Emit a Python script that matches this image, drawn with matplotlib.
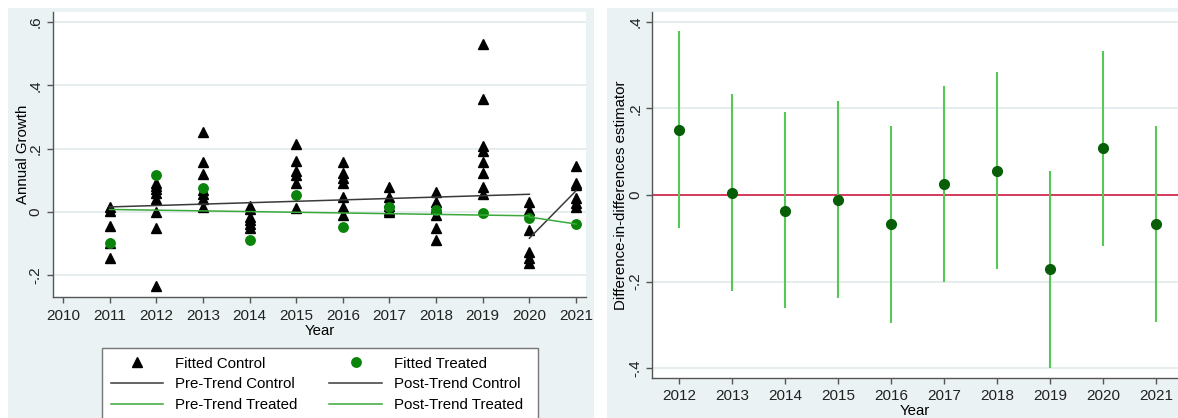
import matplotlib
matplotlib.use('Agg')
import matplotlib.pyplot as plt
from matplotlib.patches import Rectangle
from matplotlib.lines import Line2D

plt.rcParams['font.family'] = ['Liberation Sans', 'DejaVu Sans']

# ---------------- data: left panel ----------------
ctrl_2011 = [0.015, 0.003, -0.044, -0.099, -0.146]
ctrl_2012 = [0.091, 0.083, 0.072, 0.060, 0.040, 0.001, -0.052, -0.235]
ctrl_2013 = [0.252, 0.157, 0.120, 0.070, 0.057, 0.040, 0.017]
ctrl_2014 = [0.019, 0.010, -0.015, -0.025, -0.038, -0.052]
ctrl_2015 = [0.215, 0.162, 0.131, 0.117, 0.091, 0.012]
ctrl_2016 = [0.159, 0.122, 0.106, 0.091, 0.046, 0.015, -0.009]
ctrl_2017 = [0.080, 0.048, 0.033, 0.020, 0.005, 0.000]
ctrl_2018 = [0.064, 0.033, 0.012, -0.009, -0.050, -0.089]
ctrl_2019 = [0.532, 0.356, 0.209, 0.194, 0.159, 0.122, 0.078, 0.057]
ctrl_2020 = [0.033, 0.006, -0.057, -0.125, -0.146, -0.162]
ctrl_2021 = [0.145, 0.091, 0.085, 0.043, 0.027, 0.015]
ctrl_years = [2011, 2012, 2013, 2014, 2015, 2016, 2017, 2018, 2019, 2020, 2021]
ctrl_values = [ctrl_2011, ctrl_2012, ctrl_2013, ctrl_2014, ctrl_2015, ctrl_2016,
               ctrl_2017, ctrl_2018, ctrl_2019, ctrl_2020, ctrl_2021]

treat_years = [2011, 2012, 2013, 2014, 2015, 2016, 2017, 2018, 2019, 2020, 2021]
treat_values = [-0.099, 0.117, 0.075, -0.088, 0.053, -0.046, 0.017, 0.006, -0.002, -0.018, -0.038]

pre_ctrl_x, pre_ctrl_y = [2011, 2020], [0.016, 0.056]
post_ctrl_x, post_ctrl_y = [2020, 2021], [-0.083, 0.067]
pre_treat_x, pre_treat_y = [2011, 2020], [0.008, -0.012]
post_treat_x, post_treat_y = [2020, 2021], [-0.016, -0.038]

x1_ticks = [2010, 2011, 2012, 2013, 2014, 2015, 2016, 2017, 2018, 2019, 2020, 2021]
y1_ticks = [-0.2, 0.0, 0.2, 0.4, 0.6]
y1_labels = ['-.2', '0', '.2', '.4', '.6']

legend_labels = ['Fitted Control', 'Pre-Trend Control', 'Pre-Trend Treated',
                 'Fitted Treated', 'Post-Trend Control', 'Post-Trend Treated']

# ---------------- data: right panel ----------------
did_years = [2012, 2013, 2014, 2015, 2016, 2017, 2018, 2019, 2020, 2021]
did_est = [0.150, 0.005, -0.036, -0.012, -0.068, 0.025, 0.056, -0.172, 0.108, -0.067]
did_ci_low = [-0.077, -0.221, -0.262, -0.237, -0.295, -0.202, -0.170, -0.399, -0.119, -0.294]
did_ci_high = [0.378, 0.233, 0.193, 0.217, 0.160, 0.252, 0.284, 0.055, 0.334, 0.160]

y2_ticks = [-0.4, -0.2, 0.0, 0.2, 0.4]
y2_labels = ['-.4', '-.2', '0', '.2', '.4']

# ---------------- styling ----------------
W, H = 1178, 418
BG = '#eaf2f3'
GRID = '#e3ecee'
SPINE = '#555555'
GREEN_MK = '#0b840b'
GREEN_LN = '#3aa83a'
GRAY_LN = '#3a3a3a'
CI_GREEN = '#55c855'
DOT_GREEN = '#075e07'
RED = '#d63a5c'


def fx(px):
    return px / W


def fy(py):
    return 1 - py / H


fig = plt.figure(figsize=(W / 100, H / 100), dpi=100)
fig.patch.set_facecolor('white')

fig.add_artist(Rectangle((fx(8), 0), fx(594) - fx(8), fy(8), transform=fig.transFigure,
                         facecolor=BG, edgecolor='none', zorder=-2))
fig.add_artist(Rectangle((fx(607), 0), 1 - fx(607), fy(8), transform=fig.transFigure,
                         facecolor=BG, edgecolor='none', zorder=-2))

ax1 = fig.add_axes([fx(53), fy(297), fx(586) - fx(53), fy(12) - fy(297)])
ax2 = fig.add_axes([fx(652), fy(378), 1 - fx(652), fy(12) - fy(378)])


def style_axis(ax, ypad, xpad):
    ax.set_facecolor('white')
    for s in ['top', 'right']:
        ax.spines[s].set_visible(False)
    for s in ['left', 'bottom']:
        ax.spines[s].set_color(SPINE)
        ax.spines[s].set_linewidth(1.0)
    ax.tick_params(axis='both', direction='out', length=4.5, width=1.0, color=SPINE,
                   labelsize=11, labelcolor='#222222')
    ax.tick_params(axis='y', pad=ypad)
    ax.tick_params(axis='x', pad=xpad)
    ax.yaxis.grid(True, color=GRID, lw=1.3)
    ax.set_axisbelow(True)


# ---------------- left panel ----------------
for yr, vals in zip(ctrl_years, ctrl_values):
    ax1.plot([yr] * len(vals), vals, ls='none', marker='^', ms=7.6, color='black',
             zorder=3)
ax1.plot(treat_years, treat_values, ls='none', marker='o', ms=6.8, color=GREEN_MK, zorder=4)
ax1.plot(pre_ctrl_x, pre_ctrl_y, color=GRAY_LN, lw=1.1, zorder=5)
ax1.plot(post_ctrl_x, post_ctrl_y, color=GRAY_LN, lw=1.1, zorder=5)
ax1.plot(pre_treat_x, pre_treat_y, color=GREEN_LN, lw=1.1, zorder=5)
ax1.plot(post_treat_x, post_treat_y, color=GREEN_LN, lw=1.1, zorder=5)

ax1.set_xlim(2009.786, 2021.214)
ax1.set_ylim(-0.2686, 0.6319)
ax1.set_xticks(x1_ticks)
ax1.set_yticks(y1_ticks, y1_labels, rotation=90, va='center')
style_axis(ax1, ypad=3.2, xpad=4.0)
ax1.set_ylabel('Annual Growth', fontsize=10.8)
ax1.yaxis.set_label_coords(-0.043, 0.5)
ax1.set_xlabel('Year', fontsize=10.8)
ax1.xaxis.set_label_coords(0.5, -0.094)

# legend
fig.add_artist(Rectangle((fx(102), fy(440)), fx(538) - fx(102), fy(348) - fy(440),
                         transform=fig.transFigure, facecolor='white',
                         edgecolor='#777777', lw=1.0, zorder=4))
handles = [
    Line2D([], [], ls='none', marker='^', ms=7.6, color='black'),
    Line2D([], [], color=GRAY_LN, lw=1.1),
    Line2D([], [], color=GREEN_LN, lw=1.1),
    Line2D([], [], ls='none', marker='o', ms=6.8, color=GREEN_MK),
    Line2D([], [], color=GRAY_LN, lw=1.1),
    Line2D([], [], color=GREEN_LN, lw=1.1),
]
fig.legend(handles, legend_labels, ncol=2, loc='upper left',
           bbox_to_anchor=(fx(102), fy(348)), bbox_transform=fig.transFigure,
           frameon=False, fontsize=10.8, handlelength=3.5, handletextpad=0.8,
           columnspacing=2.13, labelspacing=0.44, borderpad=0.57, borderaxespad=0,
           numpoints=1)

# ---------------- right panel ----------------
ax2.axhline(0, color=RED, lw=1.4, zorder=2)
ax2.vlines(did_years, did_ci_low, did_ci_high, color=CI_GREEN, lw=1.5, zorder=3)
ax2.plot(did_years, did_est, ls='none', marker='o', ms=7.0, color=DOT_GREEN, zorder=4)

ax2.set_xlim(2011.49, 2021.415)
ax2.set_ylim(-0.423, 0.423)
ax2.set_xticks(did_years)
ax2.set_yticks(y2_ticks, y2_labels, rotation=90, va='center')
style_axis(ax2, ypad=2.6, xpad=3.4)
ax2.set_ylabel('Difference-in-differences estimator', fontsize=10.8)
ax2.yaxis.set_label_coords(-0.0456, 0.5)
ax2.set_xlabel('Year', fontsize=10.8)
ax2.xaxis.set_label_coords(0.5, -0.072)

fig.savefig('out.png', dpi=100)
